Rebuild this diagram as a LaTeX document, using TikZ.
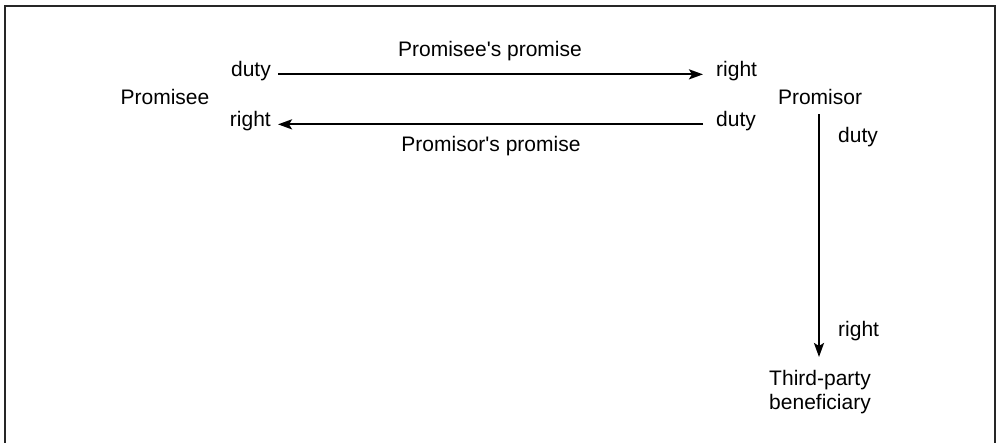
\documentclass[tikz,border=0pt]{standalone}
\usepackage{fontspec}
\setmainfont{Liberation Sans}[Ligatures=TeXOff]
\usetikzlibrary{arrows.meta}
\begin{document}
\begin{tikzpicture}[x=1pt,y=-1pt,
  lbl/.style={inner sep=0pt, text height=1ex, text depth=0pt, font=\fontsize{21}{24}\selectfont},
  party/.style={inner sep=0pt, align=center, font=\fontsize{21}{24}\selectfont},
  conn/.style={line width=2.2pt, -{Stealth[length=14pt,width=10pt,inset=3pt]}}]
\useasboundingbox (0,0) rectangle (997,443);
\draw[line width=1.8pt, color=black!85] (5,446) -- (5,6) -- (995,6) -- (995,446);
% parties
\node[lbl, anchor=base] (promisee) at (165,105) {Promisee};
\node[lbl, anchor=base] (promisor) at (820,105) {Promisor};
\node[party, anchor=north] (third) at (820,370) {Third-party\\beneficiary};
% side labels
\node[lbl, anchor=base east] (dutyL) at (271,77) {duty};
\node[lbl, anchor=base east] (rightL) at (271,127) {right};
\node[lbl, anchor=base west] (rightR) at (716,77) {right};
\node[lbl, anchor=base west] (dutyR) at (716,127) {duty};
\node[lbl, anchor=base west] (dutyV) at (838,143) {duty};
\node[lbl, anchor=base west] (rightV) at (838,337) {right};
% promise labels
\node[lbl, anchor=base] (pe) at (490,57) {Promisee's promise};
\node[lbl, anchor=base] (po) at (491,152) {Promisor's promise};
% connectors
\draw[conn, shorten <=7pt, shorten >=13pt] (dutyL.east) -- (rightR.west);
\draw[conn, shorten <=13pt, shorten >=7pt] (dutyR.west) -- (rightL.east);
\draw[conn, shorten <=9pt, shorten >=13pt] (promisor.south -| 819,0) -- (third.north -| 819,0);
\end{tikzpicture}
\end{document}
